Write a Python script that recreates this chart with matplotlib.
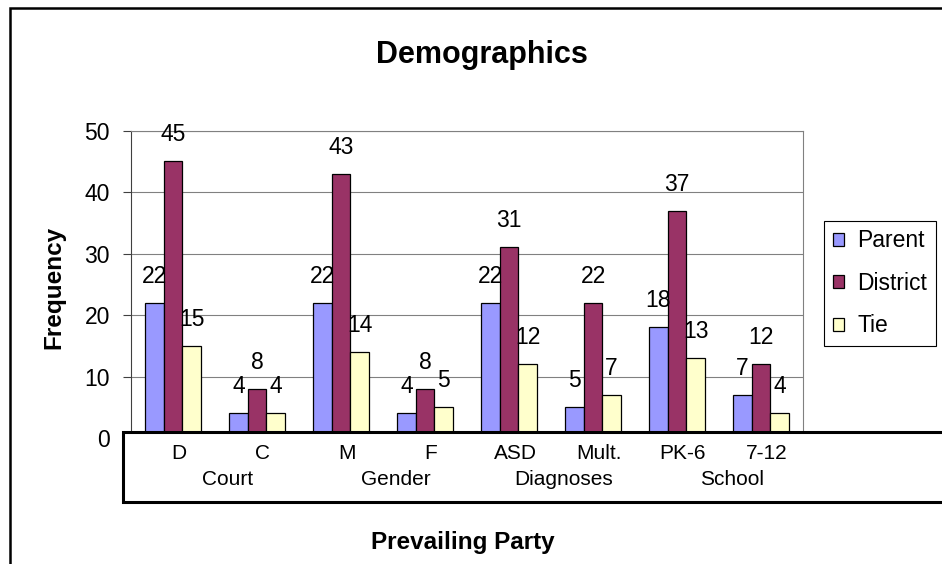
import matplotlib
matplotlib.use('Agg')
import matplotlib.pyplot as plt
from matplotlib.patches import Rectangle, Patch
from matplotlib.transforms import blended_transform_factory, offset_copy
import numpy as np

plt.rcParams['font.family'] = ['Liberation Sans', 'DejaVu Sans']

# ---- data ----
categories = ['D', 'C', 'M', 'F', 'ASD', 'Mult.', 'PK-6', '7-12']
groups = ['Court', 'Gender', 'Diagnoses', 'School']
series_names = ['Parent', 'District', 'Tie']
parent = [22, 4, 22, 4, 22, 5, 18, 7]
district = [45, 8, 43, 8, 31, 22, 37, 12]
tie = [15, 4, 14, 5, 12, 7, 13, 4]
yticks = [0, 10, 20, 30, 40, 50]
title = 'Demographics'
xlabel = 'Prevailing Party'
ylabel = 'Frequency'

colors = ['#9999FF', '#993366', '#FFFFCC']

W, H, DPI = 942, 564, 100
fig = plt.figure(figsize=(W / DPI, H / DPI), dpi=DPI)


def fx(px):
    return px / W


def fy(py):
    return 1 - py / H


# plot area (pixel geometry)
ax_l, ax_r, ax_t, ax_b = 131, 803, 130.7, 438
ax = fig.add_axes([fx(ax_l), fy(ax_b), (ax_r - ax_l) / W, (ax_b - ax_t) / H])

x = np.arange(len(categories))
group_w = 2 / 3
bw = group_w / 3
for j, (vals, c, name) in enumerate(zip([parent, district, tie], colors, series_names)):
    pos = x + (j - 1) * bw
    ax.bar(pos, vals, width=bw, color=c, edgecolor='black', linewidth=0.9,
           label=name, zorder=3)
    for p, v in zip(pos, vals):
        ax.annotate(str(v), (p, v), xytext=(0, 14.4), textcoords='offset points',
                    ha='center', va='baseline', fontsize=16.5, zorder=5)

ax.set_xlim(-0.5, len(categories) - 0.5)
ax.set_ylim(yticks[0], yticks[-1])
ax.set_yticks(yticks)
ax.set_xticks([])
ax.yaxis.grid(True, color='#808080', linewidth=0.8)
ax.set_axisbelow(True)
ax.spines['bottom'].set_visible(False)
ax.spines['left'].set_color('#404040')
ax.spines['left'].set_linewidth(0.8)
ax.spines['top'].set_color('#808080')
ax.spines['top'].set_linewidth(0.8)
ax.spines['right'].set_color('#808080')
ax.spines['right'].set_linewidth(0.8)
ax.tick_params(axis='y', direction='out', length=5.8, width=0.8, color='#404040',
               pad=9.4, labelsize=16.5)

# category box
box = Rectangle((fx(122.7), fy(502)), (980 - 122.7) / W, (502 - 431.7) / H,
                transform=fig.transFigure, facecolor='white', edgecolor='black',
                linewidth=2.2, zorder=4)
fig.add_artist(box)

base = blended_transform_factory(ax.transData, fig.transFigure)
trans1 = offset_copy(base, fig=fig, x=6, y=0, units='dots')
trans2 = offset_copy(base, fig=fig, x=13, y=0, units='dots')
for i, cat in enumerate(categories):
    fig.text(i, fy(453.7), cat, transform=trans1, ha='center', va='center',
             fontsize=15, zorder=6)
for k, g in enumerate(groups):
    fig.text(2 * k + 0.5, fy(479.3), g, transform=trans2, ha='center', va='center',
             fontsize=15, zorder=6)

# legend
handles = [Patch(facecolor=c, edgecolor='black', linewidth=0.9) for c in colors]
leg = fig.legend(handles, series_names, loc='upper left',
                 bbox_to_anchor=(fx(824.3), fy(220.7)), fontsize=16.5,
                 frameon=True, fancybox=False, edgecolor='black', framealpha=1,
                 borderpad=0.38, labelspacing=0.85, handlelength=0.48,
                 handleheight=0.48, handletextpad=0.57, borderaxespad=0)
leg.get_frame().set_linewidth(0.8)

# titles
fig.text(fx(482), fy(55), title, ha='center', va='center', fontsize=22,
         fontweight='bold')
fig.text(fx(54), fy(287), ylabel, rotation=90, ha='center', va='center',
         fontsize=17.5, fontweight='bold')
fig.text(fx(463), fy(543), xlabel, ha='center', va='center', fontsize=17.5,
         fontweight='bold')

# outer chart border
border = Rectangle((fx(10.3), fy(620)), 1100 / W, (620 - 8.3) / H,
                   transform=fig.transFigure, fill=False, edgecolor='black',
                   linewidth=1.8, zorder=10)
fig.add_artist(border)

fig.savefig('out.png', dpi=DPI)
